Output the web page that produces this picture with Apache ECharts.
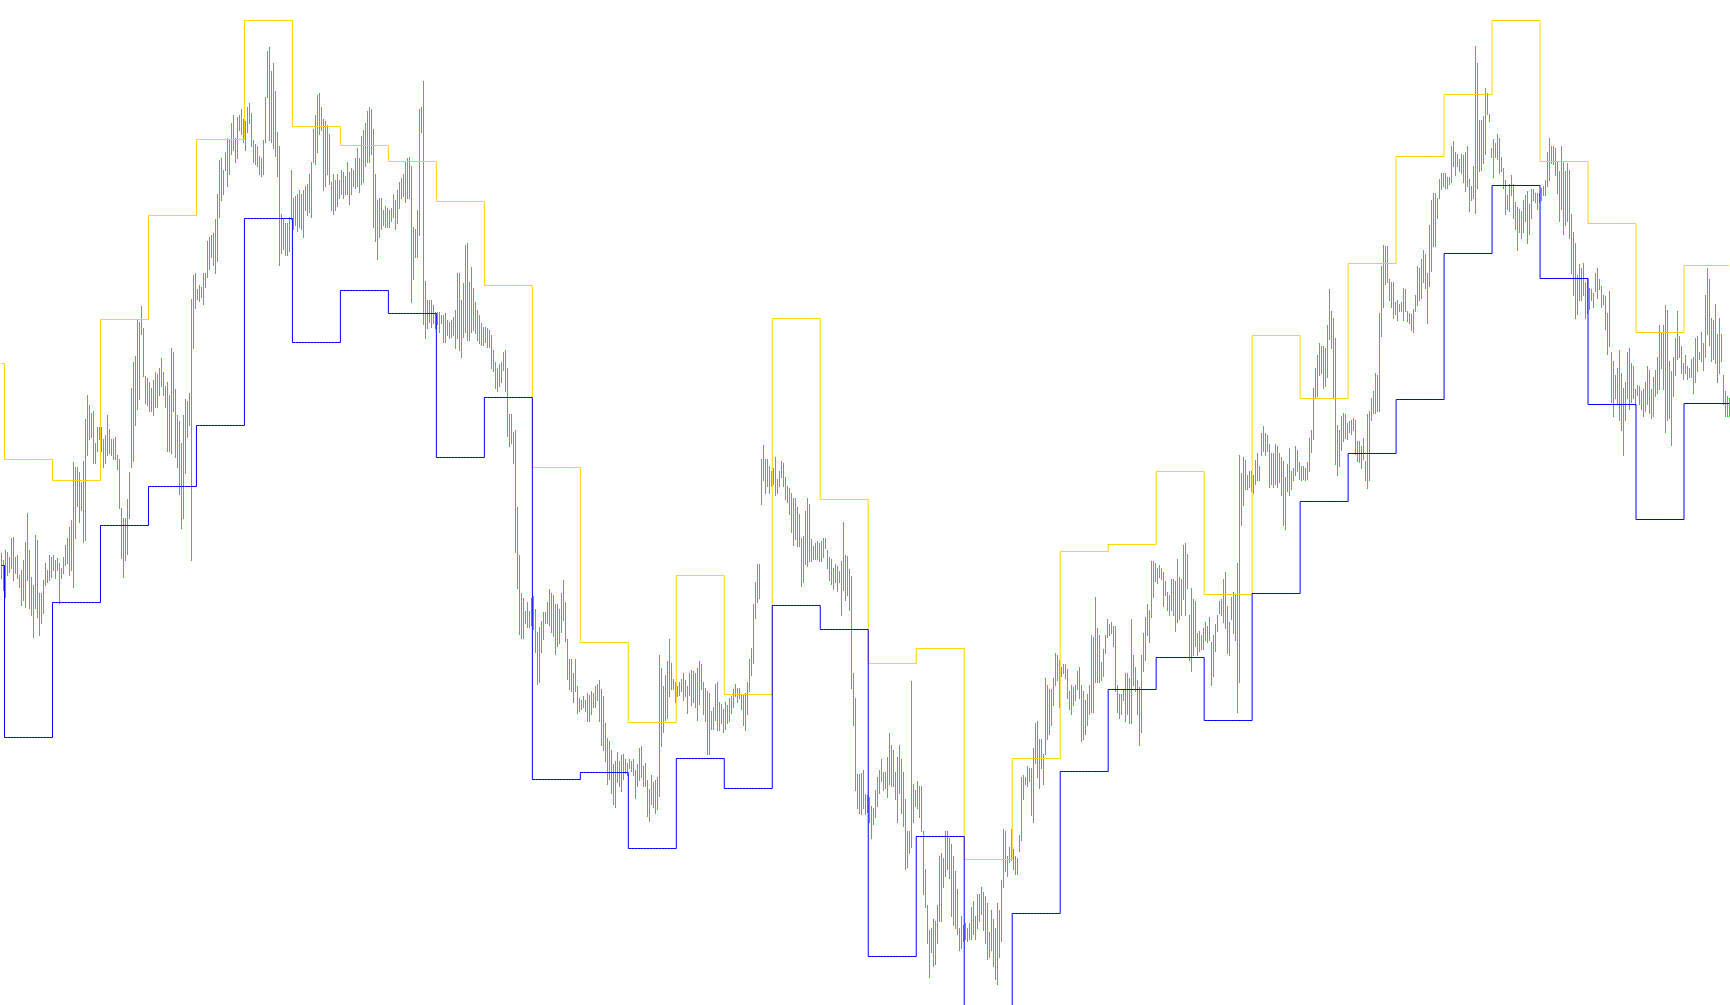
<!DOCTYPE html>
<html>
<head>
<meta charset="utf-8">
<style>
html,body{margin:0;padding:0;background:#ffffff;}
#chart{width:1730px;height:1005px;}
</style>
<script src="https://cdn.jsdelivr.net/npm/echarts@6/dist/echarts.min.js"></script>
</head>
<body>
<div id="chart"></div>
<script>
// Bar highs (one per bar)
const barHigh = [
452,445,455,453,448,467,468,448,450,430,
435,445,463,492,455,428,420,470,465,412,
412,425,442,435,450,448,450,445,447,442,
437,448,460,467,478,485,543,538,538,533,
523,544,586,610,600,592,594,562,578,578,
578,566,570,590,576,566,566,568,550,546,
497,487,487,505,533,617,643,649,685,683,
699,677,629,627,623,617,625,633,631,637,
647,633,619,623,610,657,653,616,590,584,
562,590,606,604,612,706,730,732,716,720,
718,732,732,764,768,770,772,786,811,845,
847,835,853,867,865,882,890,867,888,890,
896,886,884,898,902,892,865,861,859,849,
847,865,908,954,958,934,942,914,873,859,
791,786,782,782,788,835,807,809,811,815,
811,815,819,821,831,843,876,890,910,912,
898,886,884,880,871,823,831,825,831,825,
835,833,829,843,833,837,835,847,857,847,
869,875,882,894,898,896,876,831,805,807,
807,795,799,797,795,797,811,805,815,823,
827,831,843,847,848,839,778,776,795,896,
898,924,724,705,705,705,700,693,693,693,
690,690,692,685,683,685,688,695,732,732,
705,722,760,762,723,738,717,703,695,690,
682,678,678,677,675,670,655,643,637,641,
643,653,655,637,591,591,573,575,498,450,
412,407,394,403,394,407,409,396,373,378,
384,393,393,403,416,412,410,401,401,396,
412,425,403,366,346,346,332,346,319,307,
305,309,305,312,310,314,312,319,321,325,
316,309,282,267,264,255,241,244,253,244,
250,251,246,242,246,244,246,235,241,257,
259,239,242,225,216,230,223,225,228,350,
337,319,330,344,366,342,326,323,319,323,
326,332,325,319,332,335,334,332,337,344,
341,323,317,314,312,294,298,321,323,303,
301,296,303,300,307,309,316,321,317,317,
310,310,312,323,346,357,401,423,441,441,
546,560,546,546,539,534,537,548,526,534,
544,542,528,519,517,512,507,507,498,491,
467,469,494,507,501,466,459,462,464,462,
464,467,467,455,448,446,437,441,439,434,
444,483,450,449,436,429,332,307,231,231,
232,235,211,210,208,199,197,215,228,235,
246,233,233,248,272,260,255,233,248,260,
246,233,206,174,174,324,221,215,224,219,
219,174,136,100,75,77,86,84,100,149,
152,147,174,174,167,161,149,134,116,77,
89,80,82,77,82,98,104,89,111,111,
118,113,109,102,73,95,86,77,102,95,
125,176,174,149,158,176,156,149,147,170,
228,230,228,239,237,237,257,282,284,266,
266,251,327,320,316,316,327,352,350,345,
338,341,341,336,314,320,318,320,334,338,
320,314,305,311,320,370,368,408,377,370,
343,356,370,386,381,383,379,379,320,311,
311,316,332,332,327,386,350,338,325,318,
350,372,388,401,395,444,444,442,437,440,
437,433,424,413,410,426,426,424,446,428,
426,460,462,451,390,417,406,404,372,374,
370,377,383,379,388,363,370,381,390,404,
406,426,433,399,383,408,413,410,442,550,
532,548,545,530,534,534,530,545,552,539,
572,579,572,570,561,552,552,561,559,552,
548,544,528,541,557,534,537,559,555,543,
539,539,537,543,567,575,617,637,650,662,
659,659,657,680,716,694,687,667,580,575,
589,592,591,582,584,585,587,585,564,564,
559,567,544,591,594,607,614,632,630,692,
739,760,759,759,726,723,723,703,705,701,
703,717,716,694,692,691,696,710,739,737,
746,755,751,732,780,805,812,812,807,826,
832,832,832,828,828,859,864,853,851,846,
851,850,853,859,826,819,839,959,942,885,
885,889,917,912,891,857,866,862,871,867,
848,837,825,810,821,830,821,803,798,796,
794,805,810,814,801,816,816,812,812,812,
817,819,825,853,867,859,859,857,844,834,
859,844,834,842,835,791,773,762,730,741,
737,742,723,726,717,716,712,732,737,726,
719,710,709,692,714,653,644,630,637,655,
632,617,623,653,657,642,639,616,620,619,
614,616,623,639,635,616,628,635,648,680,
673,680,700,695,644,634,648,667,694,669,
659,642,650,639,637,646,648,667,669,653,
673,662,710,737,726,687,685,701,671,687,
671,630,614,609,607
];

// Bar lows (one per bar)
const barLow = [
427,415,408,430,433,437,425,432,427,418,
400,405,398,425,397,390,368,397,388,370,
382,392,420,423,425,428,435,427,435,402,
427,432,440,442,430,435,418,467,499,483,
495,463,465,550,566,568,542,542,554,566,
554,538,542,550,552,550,546,546,536,497,
447,428,445,451,487,538,544,580,596,606,
671,629,602,600,594,594,590,598,598,610,
619,610,598,554,554,552,594,548,538,511,
477,487,532,568,580,445,657,697,706,704,
708,701,718,728,736,748,740,732,744,788,
805,811,835,819,831,851,855,843,847,875,
871,863,855,873,882,859,843,841,839,831,
829,831,863,908,865,863,857,849,829,740,
752,756,750,750,754,786,776,780,774,778,
776,768,795,790,793,788,843,841,853,871,
875,815,819,831,821,795,791,795,799,807,
811,807,811,811,801,811,819,817,819,813,
821,823,839,843,843,851,778,764,746,768,
776,780,778,778,778,784,788,776,782,797,
807,809,803,807,807,703,726,748,748,770,
873,681,667,677,683,678,682,677,681,673,
682,663,663,670,667,668,670,657,667,655,
648,668,673,665,665,673,675,672,665,662,
660,660,663,658,658,637,634,617,614,619,
623,635,614,569,559,562,542,453,417,371,
367,367,382,378,378,380,376,353,321,323,
353,366,382,382,380,373,369,351,359,362,
373,385,364,326,316,314,303,314,292,294,
296,298,294,284,284,291,298,298,305,284,
260,255,244,221,226,212,201,198,223,219,
214,226,232,230,237,234,230,207,219,225,
228,219,219,189,184,201,198,192,196,209,
259,273,285,287,309,316,316,303,309,310,
314,305,309,292,310,300,303,298,285,301,
316,291,284,251,251,276,276,285,275,275,
282,273,276,282,284,292,298,309,303,307,
296,280,275,291,314,330,342,387,403,407,
501,525,512,519,512,519,521,510,512,519,
528,519,505,503,491,473,460,466,459,459,
419,423,441,439,444,444,446,446,446,444,
444,448,457,437,425,421,416,423,414,423,
390,415,405,410,395,317,280,215,197,192,
191,197,191,193,183,167,181,188,199,212,
224,215,217,208,221,219,219,206,183,212,
192,179,136,138,152,158,183,199,197,188,
174,111,98,62,28,53,39,41,62,84,
84,118,129,136,127,89,80,77,71,55,
57,64,66,64,66,66,71,66,77,84,
91,75,62,46,48,55,39,26,21,48,
64,118,134,129,143,145,136,131,131,154,
165,206,221,219,224,190,183,242,228,217,
237,221,251,266,271,280,300,320,325,298,
329,332,327,307,296,291,300,305,316,307,
264,266,271,280,291,293,293,323,323,323,
325,329,352,368,370,372,359,314,293,287,
291,305,284,291,282,282,320,314,291,260,
273,334,345,370,363,388,408,424,422,428,
426,399,410,395,390,395,390,374,383,386,
390,406,390,417,345,334,350,359,350,354,
356,356,365,363,365,320,329,354,374,392,
390,383,377,352,350,386,372,365,293,323,
480,500,516,516,518,514,512,521,525,525,
550,554,550,554,518,521,518,521,518,523,
509,480,476,514,509,516,525,530,534,526,
525,526,525,526,534,553,566,607,609,630,
632,617,619,628,666,657,607,541,530,539,
555,564,567,566,573,571,575,551,544,543,
537,546,525,517,525,585,592,592,594,594,
669,698,721,723,705,698,687,691,685,694,
694,685,694,684,682,675,673,694,700,705,
707,723,717,682,719,734,759,759,787,807,
816,819,817,817,821,823,839,830,839,834,
832,823,814,819,794,805,807,792,817,834,
835,842,851,891,884,848,828,848,846,832,
834,817,791,796,794,810,787,776,755,773,
767,773,784,762,771,787,805,803,796,803,
805,810,810,819,825,842,841,830,812,784,
796,771,780,784,767,732,710,687,691,705,
705,710,687,692,696,705,698,714,707,716,
698,701,676,651,659,603,589,607,601,585,
575,550,585,607,596,603,607,600,610,601,
596,589,594,601,592,587,589,609,612,616,
637,616,573,585,587,560,609,630,646,648,
632,626,632,626,628,628,612,623,634,646,
644,635,648,671,660,644,646,642,623,632,
644,601,589,589,589
];

// Channel levels, one value per period (first period is 2 bars, then 24 bars each)
const upperLevels = [641,545,524,685,789,865,984,878,859,843,803,719,537,362,282,429,310,686,505,341,356,145,246,453,460,533,410,669,606,741,848,910,984,843,781,672,739];
const lowerLevels = [439,267,402,479,518,579,786,662,714,691,547,607,225,232,156,246,216,399,375,48,168,-60,91,233,315,347,284,411,503,551,605,751,819,726,600,485,601];
const FIRST_PERIOD_BARS = 2;
const PERIOD_BARS = 24;

const N = Math.min(barHigh.length, barLow.length);
const categories = [];
for (let i = 0; i < N; i++) categories.push(String(i + 1));

function expandLevels(levels) {
  const out = [];
  for (let i = 0; i < N; i++) {
    const k = i < FIRST_PERIOD_BARS ? 0 : 1 + Math.floor((i - FIRST_PERIOD_BARS) / PERIOD_BARS);
    out.push(levels[Math.min(k, levels.length - 1)]);
  }
  return out;
}

const barData = [];
for (let i = 0; i < N; i++) barData.push([i, barHigh[i], barLow[i]]);

const chart = echarts.init(document.getElementById('chart'), null, { renderer: 'canvas' });
chart.setOption({
  animation: false,
  backgroundColor: '#ffffff',
  grid: { left: 0.5, top: 0, width: 1730, height: 1005, containLabel: false },
  xAxis: { type: 'category', data: categories, show: false, boundaryGap: true },
  yAxis: { type: 'value', min: -0.5, max: 1004.5, show: false },
  series: [
    {
      type: 'custom',
      z: 1,
      data: barData,
      encode: { x: 0, y: [1, 2] },
      renderItem: function (params, api) {
        const hi = api.coord([api.value(0), api.value(1)]);
        const lo = api.coord([api.value(0), api.value(2)]);
        const y0 = Math.round(hi[1]);
        const y1 = Math.round(lo[1]);
        return {
          type: 'rect',
          shape: { x: Math.floor(hi[0]), y: y0, width: 1, height: Math.max(1, y1 - y0 + 1) },
          style: { fill: '#14e014' }
        };
      }
    },
    {
      type: 'line',
      z: 3,
      step: 'middle',
      data: expandLevels(upperLevels),
      symbol: 'none',
      showSymbol: false,
      lineStyle: { color: '#ffd200', width: 1 }
    },
    {
      type: 'line',
      z: 3,
      step: 'middle',
      data: expandLevels(lowerLevels),
      symbol: 'none',
      showSymbol: false,
      lineStyle: { color: '#0000ff', width: 1 }
    }
  ]
});
</script>
</body>
</html>
